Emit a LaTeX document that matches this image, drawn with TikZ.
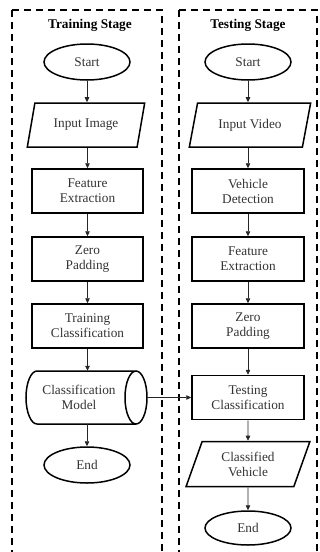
\documentclass[tikz,border=0pt]{standalone}
\usepackage{fontspec}
\setmainfont{Liberation Serif}
\usetikzlibrary{shapes.geometric,arrows.meta}
\tikzset{
  txt/.style={align=center, text=black!80, inner sep=1pt, font=\fontsize{13.3}{15}\selectfont},
  base/.style={txt, draw=black, line width=1.5pt},
  proc/.style={base, rectangle, minimum width=111pt, minimum height=44pt},
  term/.style={base, ellipse, minimum width=86pt, minimum height=36pt},
  io/.style={base, trapezium, trapezium left angle=70, trapezium right angle=110,
    trapezium stretches=true, minimum width=#1, minimum height=44pt},
  cylbox/.style={rectangle, minimum width=121pt, minimum height=53pt, inner sep=0pt},
  outline/.style={draw=black, line width=1.5pt},
  flow/.style={-{Triangle[length=5pt,width=4.5pt]}, line width=0.7pt, draw=black!85},
  stagebox/.style={draw=black, line width=1.8pt, dash pattern=on 7pt off 5pt},
  title/.style={font=\bfseries\fontsize{13.3}{15}\selectfont, text=black}
}
\begin{document}
\begin{tikzpicture}[x=1pt,y=-1pt]
\useasboundingbox (0,0) rectangle (320,552);
\begin{scope}
\clip (0,0) rectangle (320,552);
\draw[stagebox] (12,10) -- (162,10) -- (162,560);
\draw[stagebox] (12,10) -- (12,560);
\draw[stagebox] (179,10) -- (317,10) -- (317,560);
\draw[stagebox] (179,10) -- (179,560);
\end{scope}

\node[title] (t1) at (90,25) {Training Stage};
\node[title] (t2) at (248,25) {Testing Stage};

% left column
\node[term] (s1) at (87,62) {Start};
\node[io=118pt] (i1) at (86,125) {Input Image};
\node[proc] (f1) at (87.5,191) {Feature\\Extraction};
\node[proc] (z1) at (87.5,259) {Zero\\Padding};
\node[proc] (c1) at (87.5,326) {Training\\Classification};
\node[cylbox] (m1) at (86.5,397.5) {};
\node[txt] (m1t) at (79,397.5) {Classification\\Model};
\draw[outline] (37,371) -- (136,371)
  (37,424) -- (136,424)
  (37,371) arc[start angle=270, end angle=90, x radius=11, y radius=26.5]
  (136,397.5) ellipse[x radius=11, y radius=26.5];
\node[term] (e1) at (87,465) {End};

% right column
\node[term] (s2) at (248,62) {Start};
\node[io=122pt] (i2) at (250,125) {Input Video};
\node[proc, minimum width=112pt] (v2) at (248,191) {Vehicle\\Detection};
\node[proc, minimum width=112pt] (f2) at (248,259) {Feature\\Extraction};
\node[proc, minimum width=112pt] (z2) at (248,326) {Zero\\Padding};
\node[proc, minimum width=112pt] (c2) at (248,397.5) {Testing\\Classification};
\node[io=124pt, minimum height=45pt] (o2) at (248,464) {Classified\\Vehicle};
\node[term, minimum height=34pt] (e2) at (248,528) {End};

\draw[flow] (s1) -- (i1.north -| s1);
\draw[flow] (i1.south -| f1) -- (f1);
\draw[flow] (f1) -- (z1);
\draw[flow] (z1) -- (c1);
\draw[flow] (c1) -- (m1.north -| c1);
\draw[flow] (m1.south -| e1) -- (e1);

\draw[flow] (s2) -- (i2.north -| s2);
\draw[flow] (i2.south -| v2) -- (v2);
\draw[flow] (v2) -- (f2);
\draw[flow] (f2) -- (z2);
\draw[flow] (z2) -- (c2);
\draw[flow] (c2) -- (o2);
\draw[flow] (o2) -- (e2);

\draw[flow] (m1.east) -- (c2.west);
\end{tikzpicture}
\end{document}
